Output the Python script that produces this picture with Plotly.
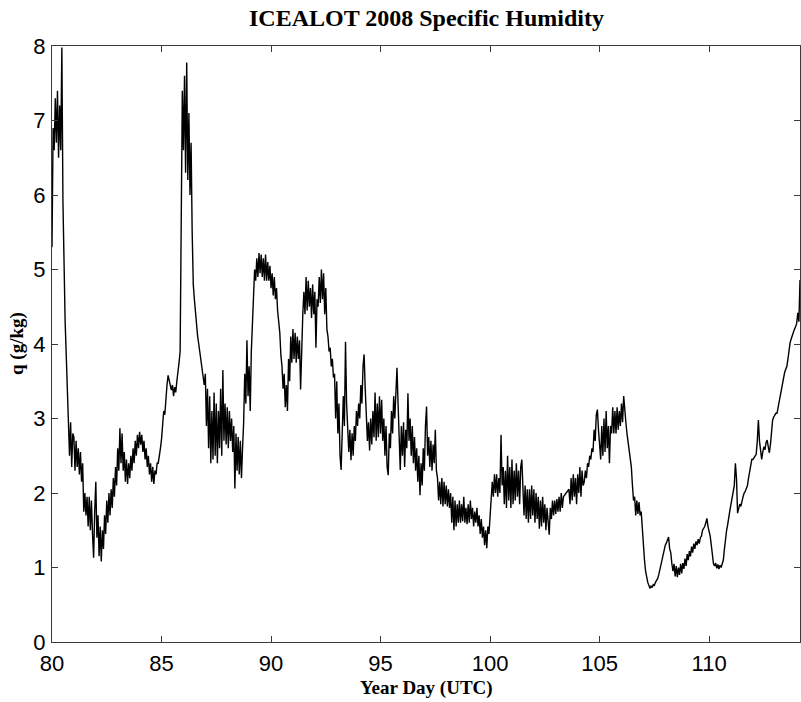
import numpy as np
import plotly.graph_objects as go

# Specific humidity q (g/kg), sampled every 0.05 year-day starting at day 80.00
day_start = 80.0
day_step = 0.05
q_values = [
    # 80
    5.3, 6.9, 6.6, 7.3, 6.7, 7.4, 6.5, 7.2, 6.6, 7.98, 5.9, 4.8, 4.3, 3.85, 3.45, 3.05, 2.5, 2.95, 2.35, 2.8,
    # 81
    2.75, 2.3, 2.7, 2.35, 2.6, 2.25, 2.55, 2.15, 2.4, 1.75, 2.0, 1.7, 1.95, 1.55, 1.95, 1.5, 1.9, 1.45, 1.13, 1.75,
    # 82
    2.15, 1.4, 1.7, 1.15, 1.55, 1.08, 1.5, 1.25, 1.7, 1.45, 1.9, 1.6, 2.0, 1.7, 2.05, 1.8, 2.2, 1.95, 2.35, 2.1,
    # 83
    2.6, 2.3, 2.87, 2.4, 2.8, 2.3, 2.55, 2.15, 2.45, 2.12, 2.4, 2.2, 2.5, 2.3, 2.6, 2.4, 2.7, 2.5, 2.78, 2.6,
    # 84
    2.82, 2.65, 2.78, 2.55, 2.7, 2.45, 2.6, 2.35, 2.5, 2.25, 2.4, 2.15, 2.35, 2.12, 2.3, 2.25, 2.4, 2.4, 2.55, 2.6,
    # 85
    2.72, 2.9, 3.1, 3.05, 3.3, 3.45, 3.58, 3.5, 3.45, 3.38, 3.45, 3.3, 3.42, 3.35, 3.5, 3.6, 3.75, 3.9, 5.4, 7.4,
    # 86
    6.6, 7.6, 6.3, 7.78, 6.2, 7.1, 6.0, 6.7, 5.5, 4.8, 4.6, 4.4, 4.2, 4.1, 4.0, 3.9, 3.8, 3.7, 3.6, 3.45,
    # 87
    3.6, 2.9, 3.4, 2.6, 3.3, 2.4, 3.1, 2.45, 3.35, 2.5, 3.2, 2.4, 3.1, 2.6, 3.4, 2.5, 3.65, 2.7, 3.2, 2.65,
    # 88
    3.15, 2.6, 3.1, 2.7, 3.0, 2.55, 2.9, 2.06, 2.8, 2.3, 2.75, 2.25, 2.7, 2.2, 2.6, 2.95, 3.6, 3.2, 4.05, 3.3,
    # 89
    3.7, 3.1, 3.9, 4.3, 4.7, 5.0, 4.85, 5.15, 4.9, 5.22, 4.95, 5.2, 4.9, 5.15, 4.85, 5.2, 4.85, 5.1, 4.85, 5.05,
    # 90
    4.75, 4.95, 4.65, 4.9, 4.6, 4.75, 4.45, 4.3, 4.15, 3.85, 3.7, 3.4, 3.6, 3.15, 3.45, 3.1, 3.8, 3.5, 4.1, 3.75,
    # 91
    4.2, 3.8, 4.15, 3.75, 4.1, 3.8, 4.05, 3.39, 4.1, 4.4, 4.7, 4.4, 4.9, 4.45, 4.85, 4.5, 4.75, 4.35, 4.8, 4.4,
    # 92
    4.7, 3.95, 4.6, 4.5, 4.9, 4.55, 5.0, 4.6, 4.95, 4.4, 4.75, 4.2, 4.1, 3.9, 3.95, 3.7, 3.8, 3.55, 3.6, 3.0,
    # 93
    3.5, 2.8, 3.2, 2.5, 2.31, 2.7, 3.3, 2.9, 4.03, 3.2, 2.9, 2.55, 2.85, 2.44, 2.8, 2.5, 2.9, 2.7, 3.1, 2.9,
    # 94
    3.2, 3.0, 3.45, 3.2, 3.7, 3.86, 3.4, 2.95, 2.7, 2.95, 2.57, 3.0, 2.65, 3.1, 2.75, 3.35, 2.7, 3.2, 2.75, 3.3,
    # 95
    2.8, 3.25, 2.7, 3.0, 2.5, 2.9, 2.35, 2.24, 2.8, 2.6, 3.1, 2.8, 3.3, 3.0, 3.5, 3.68, 3.2, 2.7, 2.31, 2.9,
    # 96
    2.5, 2.95, 2.35, 2.85, 2.6, 3.34, 2.7, 3.0, 2.5, 2.9, 2.4, 2.75, 2.3, 2.6, 2.15, 2.5, 1.97, 2.4, 2.1, 2.6,
    # 97
    2.3, 2.9, 3.16, 2.5, 2.75, 2.35, 2.7, 2.3, 2.65, 2.4, 2.85, 2.3, 2.2, 1.9, 2.15, 1.85, 2.2, 1.82, 2.15, 1.85,
    # 98
    2.1, 1.82, 2.05, 1.8, 2.0, 1.6, 1.95, 1.5, 1.9, 1.55, 1.85, 1.6, 1.9, 1.6, 1.85, 1.62, 1.95, 1.6, 1.8, 1.58,
    # 99
    1.85, 1.6, 1.9, 1.65, 1.8, 1.55, 1.75, 1.6, 1.8, 1.55, 1.7, 1.45, 1.65, 1.4, 1.55, 1.3, 1.5, 1.26, 1.55, 1.45,
    # 100
    1.75, 1.9, 2.15, 1.95, 2.25, 2.0, 2.25, 1.95, 2.2, 2.0, 2.78, 2.1, 2.35, 1.85, 2.3, 1.8, 2.5, 1.9, 2.35, 1.8,
    # 101
    2.45, 1.85, 2.3, 1.9, 2.4, 1.95, 2.3, 1.85, 2.35, 2.45, 2.0, 1.7, 2.1, 1.65, 2.05, 1.6, 2.05, 1.65, 2.1, 1.7,
    # 102
    2.05, 1.6, 2.0, 1.65, 1.95, 1.52, 1.9, 1.55, 1.95, 1.6, 1.85, 1.5, 1.8, 1.55, 1.44, 1.8, 1.65, 1.9, 1.7, 1.9,
    # 103
    1.72, 1.92, 1.75, 1.95, 1.75, 2.0, 1.8, 1.95, 1.97, 1.98, 2.0, 2.02, 2.05, 1.85, 2.2, 1.9, 2.25, 1.95, 2.2, 1.85,
    # 104
    2.25, 2.0, 2.35, 1.95, 2.3, 2.1, 2.15, 2.3, 2.2, 2.4, 2.35, 2.5, 2.45, 2.6, 2.55, 2.85, 2.7, 3.05, 3.12, 2.85,
    # 105
    2.6, 2.45, 2.9, 2.5, 3.0, 2.55, 3.1, 2.6, 2.9, 2.4, 2.9, 2.8, 3.15, 2.8, 3.1, 2.8, 3.15, 2.85, 3.1, 2.9,
    # 106
    3.2, 2.95, 3.3, 3.05, 2.95, 2.8, 2.7, 2.6, 2.5, 2.35, 2.1, 1.9, 1.95, 1.7, 1.9, 1.72, 1.88, 1.7, 1.75, 1.5,
    # 107
    1.3, 1.1, 0.95, 0.85, 0.8, 0.76, 0.72, 0.75, 0.73, 0.77, 0.76, 0.8, 0.82, 0.85, 0.9, 0.97, 1.03, 1.1, 1.18, 1.25,
    # 108
    1.3, 1.33, 1.37, 1.41, 1.25, 1.2, 1.05, 0.95, 1.05, 0.88, 1.02, 0.87, 1.0, 0.9, 1.05, 0.92, 1.06, 0.98, 1.12, 1.02,
    # 109
    1.18, 1.1, 1.22, 1.15, 1.28, 1.2, 1.32, 1.25, 1.35, 1.3, 1.38, 1.32, 1.4, 1.42, 1.5, 1.52, 1.55, 1.6, 1.66, 1.55,
    # 110
    1.48, 1.42, 1.3, 1.15, 1.05, 1.02, 1.06, 0.99, 1.04, 0.98, 1.03, 1.0, 1.06, 1.1, 1.25, 1.4, 1.5, 1.58, 1.7, 1.77,
    # 111
    1.85, 1.95, 2.04, 2.1, 2.4, 2.2, 1.73, 1.8, 1.85, 1.82, 1.91, 1.95, 2.0, 2.02, 2.06, 2.1, 2.2, 2.3, 2.4, 2.45,
    # 112
    2.45, 2.48, 2.5, 2.52, 2.7, 2.98, 2.7, 2.55, 2.45, 2.55, 2.62, 2.58, 2.68, 2.71, 2.6, 2.54, 2.65, 2.85, 2.98, 3.02,
    # 113
    3.05, 3.07, 3.07, 3.15, 3.25, 3.3, 3.4, 3.5, 3.58, 3.62, 3.66, 3.7, 3.8, 3.92, 4.02, 4.07, 4.12, 4.15, 4.2, 4.23,
    # 114
    4.28, 4.42, 4.3, 4.86,
]
x_ticks = [80, 85, 90, 95, 100, 105, 110]
y_ticks = [0, 1, 2, 3, 4, 5, 6, 7, 8]

days = day_start + day_step * np.arange(len(q_values))

title_text = "ICEALOT 2008 Specific Humidity"
xlabel_text = "Year Day (UTC)"
ylabel_text = "q (g/kg)"

fig = go.Figure()
fig.add_trace(go.Scatter(x=days, y=q_values, mode="lines",
                         line=dict(color="black", width=1.4), hoverinfo="skip",
                         showlegend=False))

axis_color = "#3a3a3a"
tick_font = dict(family="Liberation Sans, Arial, sans-serif", size=22, color="black")
label_font = dict(family="Liberation Serif, Times New Roman, serif", size=19, color="black")

fig.update_layout(
    width=801, height=702,
    margin=dict(l=52, r=1, t=46, b=60),
    paper_bgcolor="white", plot_bgcolor="white",
    showlegend=False,
    xaxis=dict(range=[80, 114.15], tickvals=x_ticks, ticktext=[str(v) for v in x_ticks],
               ticks="inside", ticklen=6, tickcolor=axis_color, tickwidth=1,
               showline=True, linecolor=axis_color, linewidth=1, mirror="ticks",
               showgrid=False, zeroline=False, tickfont=tick_font, ticklabelstandoff=2),
    yaxis=dict(range=[0, 8], tickvals=y_ticks, ticktext=[str(v) for v in y_ticks],
               ticks="inside", ticklen=6, tickcolor=axis_color, tickwidth=1,
               showline=True, linecolor=axis_color, linewidth=1, mirror="ticks",
               showgrid=False, zeroline=False, tickfont=tick_font, ticklabelstandoff=1),
    annotations=[
        dict(text="<b>%s</b>" % title_text, xref="paper", yref="paper", x=0.5, y=1,
             yshift=28, xanchor="center", yanchor="middle", showarrow=False,
             font=dict(family="Liberation Serif, Times New Roman, serif", size=24, color="black")),
        dict(text="<b>%s</b>" % xlabel_text, xref="paper", yref="paper", x=0.5, y=0,
             yshift=-46, xanchor="center", yanchor="middle", showarrow=False, font=label_font),
        dict(text="<b>%s</b>" % ylabel_text, xref="paper", yref="paper", x=0, y=0.5,
             xshift=-35, xanchor="center", yanchor="middle", textangle=-90,
             showarrow=False, font=label_font),
    ],
)

fig.write_html("out.html")
